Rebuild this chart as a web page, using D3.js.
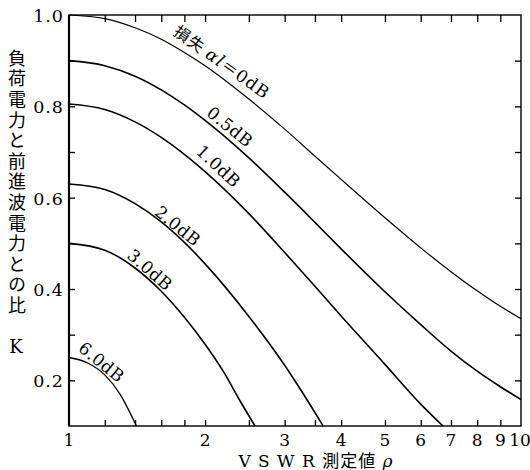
<!DOCTYPE html>
<html><head><meta charset="utf-8">
<script src="https://cdn.jsdelivr.net/npm/d3@7"></script>
<style>body{margin:0;background:#fff}svg{display:block}</style>
</head><body><svg id="c" width="530" height="470"></svg>
<script>
// ---- data ----
const lossNames = ["0dB", "0.5dB", "1.0dB", "2.0dB", "3.0dB", "6.0dB"];
const rho_0dB  = [1, 1.2, 1.4, 1.6, 1.8, 2, 2.5, 3, 3.5, 4, 5, 6, 7, 8, 9, 10];
const K_0dB    = [1.0, 0.992, 0.972, 0.947, 0.918, 0.889, 0.816, 0.750, 0.691, 0.640, 0.556, 0.490, 0.438, 0.396, 0.362, 0.335];
const rho_05dB = [1, 1.2, 1.4, 1.6, 1.8, 2, 2.5, 3, 3.5, 4, 5, 6, 7, 8, 9, 10];
const K_05dB   = [0.900, 0.889, 0.866, 0.836, 0.803, 0.769, 0.687, 0.612, 0.546, 0.488, 0.394, 0.322, 0.264, 0.220, 0.186, 0.158];
const rho_1dB  = [1, 1.2, 1.4, 1.6, 1.8, 2, 2.5, 3, 3.5, 4, 5, 6, 6.72];
const K_1dB    = [0.805, 0.793, 0.766, 0.732, 0.695, 0.657, 0.565, 0.480, 0.406, 0.341, 0.235, 0.148, 0.100];
const rho_2dB  = [1, 1.2, 1.4, 1.6, 1.8, 2, 2.5, 3, 3.3, 3.65];
const K_2dB    = [0.630, 0.618, 0.587, 0.547, 0.502, 0.455, 0.340, 0.233, 0.170, 0.100];
const rho_3dB  = [1, 1.2, 1.4, 1.6, 1.8, 2, 2.2, 2.4, 2.58];
const K_3dB    = [0.500, 0.485, 0.446, 0.395, 0.338, 0.279, 0.218, 0.152, 0.100];
const rho_6dB  = [1, 1.1, 1.2, 1.3, 1.35, 1.41];
const K_6dB    = [0.250, 0.238, 0.212, 0.168, 0.138, 0.100];

const xMajorTicks = [1, 2, 3, 4, 5, 6, 7, 8, 9, 10];
const xMinorTicks = [1.2, 1.4, 1.6, 1.8, 2.5, 3.5];
const yTicks = [0.1, 0.2, 0.3, 0.4, 0.5, 0.6, 0.7, 0.8, 0.9, 1.0];
const yLabelTicks = [0.2, 0.4, 0.6, 0.8, 1.0];
const yTitle = "負荷電力と前進波電力との比";
const yTitleK = "K";
const xTitleText = "V S W R 測定値 ";
const xTitleSym = "ρ";
const lossPrefix = "損失 ";
const lossSym = "αl";
const lossEq = "＝";

// ---- drawing ----
const svg = d3.select("#c");
const FONT = "'DejaVu Serif','Noto Sans CJK JP',serif";
const CJK = "'Noto Sans CJK JP','DejaVu Serif',serif";
const L = 69, R = 521, T = 15, B = 426;
const x = d3.scaleLog().domain([1, 10]).range([L, R]);
const y = d3.scaleLinear().domain([0.1, 1.0]).range([B, T]);

const series = [
  {name: lossNames[0], rho: rho_0dB, K: K_0dB, w: 1.2},
  {name: lossNames[1], rho: rho_05dB, K: K_05dB, w: 1.6},
  {name: lossNames[2], rho: rho_1dB, K: K_1dB, w: 1.6},
  {name: lossNames[3], rho: rho_2dB, K: K_2dB, w: 1.6},
  {name: lossNames[4], rho: rho_3dB, K: K_3dB, w: 1.6},
  {name: lossNames[5], rho: rho_6dB, K: K_6dB, w: 1.3}
];

const line = d3.line().x(d => x(d[0])).y(d => y(d[1])).curve(d3.curveMonotoneX);
svg.append("g").selectAll("path").data(series).join("path")
  .attr("d", s => line(s.rho.map((r, i) => [r, s.K[i]])))
  .attr("fill", "none").attr("stroke", "#000").attr("stroke-width", s => s.w);

// axes (ticks inward)
const allX = xMajorTicks.concat(xMinorTicks).filter(v => v > 1 && v < 10);
function styleAxis(g) { g.select(".domain").remove(); g.selectAll("line").attr("stroke", "#000").attr("stroke-width", 1.3); }
svg.append("g").attr("transform", `translate(0,${B})`)
  .call(d3.axisBottom(x).tickValues(allX).tickSize(-6).tickFormat(""))
  .call(styleAxis);
svg.append("g").attr("transform", `translate(0,${T})`)
  .call(d3.axisTop(x).tickValues(allX).tickSize(-7).tickFormat(""))
  .call(styleAxis);
svg.append("g").attr("transform", `translate(${L},0)`)
  .call(d3.axisLeft(y).tickValues(yTicks.slice(1, -1)).tickSize(-6).tickFormat(""))
  .call(styleAxis);
svg.append("g").attr("transform", `translate(${R},0)`)
  .call(d3.axisRight(y).tickValues(yTicks.slice(1, -1)).tickSize(-6).tickFormat(""))
  .call(styleAxis);

// frame
svg.append("rect").attr("x", L).attr("y", T).attr("width", R - L).attr("height", B - T)
  .attr("fill", "none").attr("stroke", "#000").attr("stroke-width", 1.4);
svg.append("line").attr("x1", L).attr("x2", L).attr("y1", T).attr("y2", B)
  .attr("stroke", "#000").attr("stroke-width", 2.2);

// tick labels
svg.append("g").selectAll("text").data(xMajorTicks).join("text")
  .attr("x", d => x(d) + (d === 10 ? -1 : 0)).attr("y", 446).attr("text-anchor", "middle")
  .attr("font-family", FONT).attr("font-size", 17).text(d => d);
svg.append("g").selectAll("text").data(yLabelTicks).join("text")
  .attr("x", 64).attr("y", d => y(d) + 7).attr("text-anchor", "end")
  .attr("font-family", FONT).attr("font-size", 17.5).attr("letter-spacing", 1)
  .text(d => d3.format(".1f")(d));

// titles
svg.append("text").attr("x", 17).attr("y", 49)
  .attr("font-family", CJK).attr("font-size", 18).attr("letter-spacing", 2.6)
  .style("writing-mode", "vertical-rl").text(yTitle);
svg.append("text").attr("x", 16).attr("y", 353).attr("text-anchor", "middle")
  .attr("font-family", FONT).attr("font-size", 18).text(yTitleK);
const xt = svg.append("text").attr("x", 316).attr("y", 467).attr("text-anchor", "middle")
  .attr("font-family", FONT).attr("font-size", 17).attr("letter-spacing", 1);
xt.append("tspan").text(xTitleText);
xt.append("tspan").attr("font-style", "italic").text(xTitleSym);

// curve labels
const spots = [
  {rho: 2.18, K: 0.897, a: 35.5},
  {rho: 2.27, K: 0.755, a: 39},
  {rho: 2.14, K: 0.669, a: 43},
  {rho: 1.74, K: 0.538, a: 39},
  {rho: 1.51, K: 0.442, a: 41},
  {rho: 1.18, K: 0.240, a: 39}
];
series.forEach((s, i) => {
  const p = spots[i];
  const t = svg.append("text")
    .attr("transform", `translate(${x(p.rho)},${y(p.K)}) rotate(${p.a})`)
    .attr("text-anchor", "middle").attr("dy", "0.35em")
    .attr("font-family", FONT).attr("font-size", 17)
    .attr("letter-spacing", i === 0 ? 1.2 : 0.5);
  if (i === 0) {
    t.append("tspan").attr("font-family", CJK).attr("font-size", 16).text(lossPrefix);
    t.append("tspan").attr("font-style", "italic").text(lossSym);
    t.append("tspan").attr("font-family", CJK).attr("font-size", 16).text(lossEq);
    t.append("tspan").text(s.name);
  } else {
    t.text(s.name);
  }
});
</script>
</body></html>
